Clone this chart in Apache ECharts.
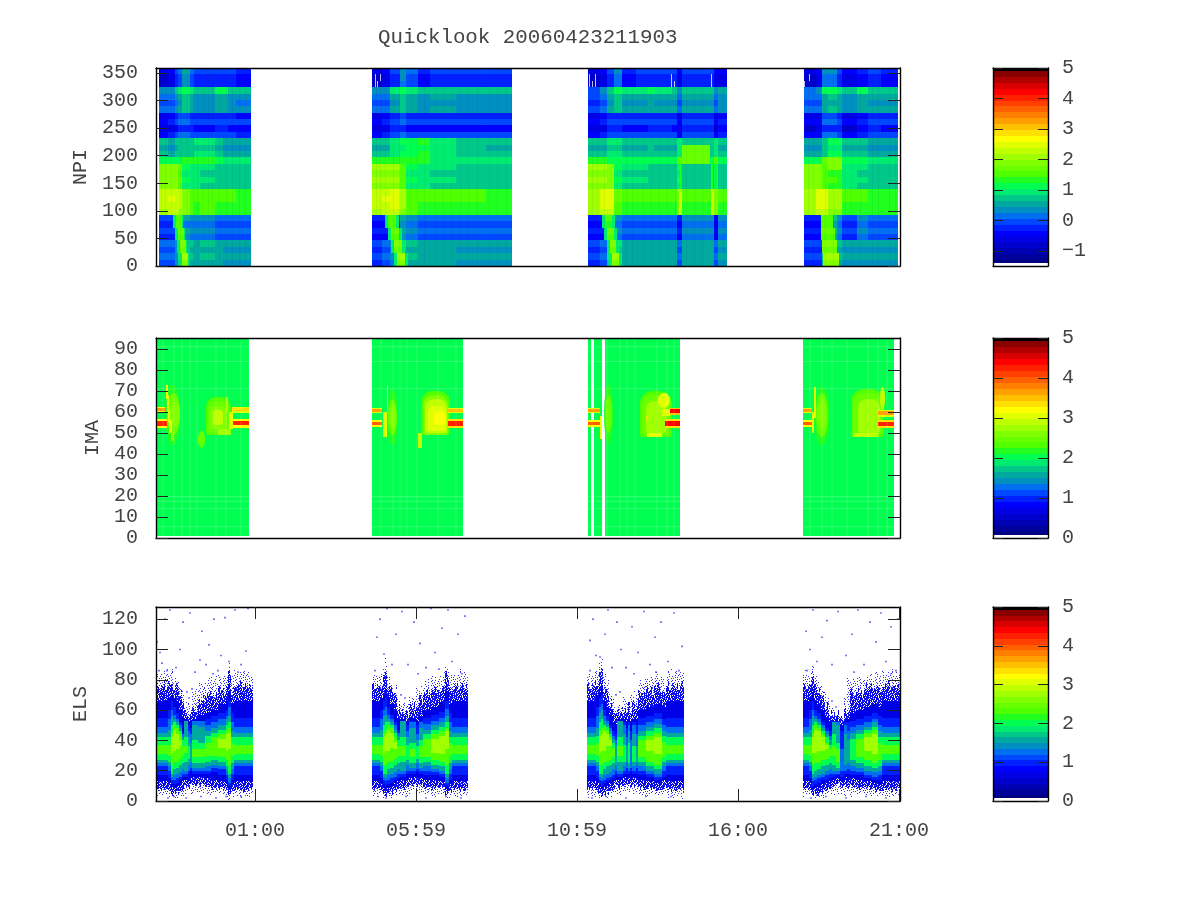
<!DOCTYPE html>
<html><head><meta charset="utf-8"><style>html,body{margin:0;background:#fff}#c{width:1200px;height:900px}</style>
<script src="https://cdn.jsdelivr.net/npm/echarts@6/dist/echarts.min.js"></script></head><body><div id="c"></div>
<script>
const chartTitle='Quicklook 20060423211903';
const timeTickScans=[99,260,421,582,743];
const timeTickLabels=['01:00','05:59','10:59','16:00','21:00'];
const npiTicks=[0,50,100,150,200,250,300,350];
const imaTicks=[0,10,20,30,40,50,60,70,80,90];
const elsTicks=[0,20,40,60,80,100,120];
const paletteColors=['#000080','#00009a','#0000b4','#0000cc','#0000e6','#0000ff','#0020ff','#0048ff','#0070f0','#0090c0','#00a8a0','#00c888','#00ec70','#00ff50','#20ff20','#50ff00','#68ff00','#80ff00','#a0ff00','#c0ff00','#e0ff00','#ffff00','#ffe000','#ffc000','#ffa000','#ff8000','#ff6000','#ff4000','#ff2000','#ff0000','#d80000','#b00000','#880000'];

const npiRowBands=[[0,3],[3,4],[4,7],[7,11],[11,14],[14,15],[15,19],[19,23],[23,27],[27,31]];
const npiBandOffset=[.1,-.05,-.1,.05,.12,-.05,.1,-.12,.12,-.15,.1,.06,-.06,.04,0,.05,-.05,.06,-.05,.02,.04,0,-.02,.1,-.12,.1,-.1,.1,-.05,.1,-.05];
const npiEdges1=[3,12,19,22,26,34,38,44,59,67,72,80,95];
const npiValues1=[
[-.7,-.6,-.1,.1,.4,.1,-.2,-.2,-.1,-.1,-.2,-.3],
[.3,.3,.7,.9,1.05,.8,.7,.6,1.0,1.1,.7,.6],
[0,.1,.2,.45,.7,.5,.3,.3,.5,.5,.3,.25],
[-.5,-.4,-.2,0,0,-.1,-.2,-.2,-.1,-.1,-.2,-.25],
[.6,.5,.6,.7,.7,.75,.8,.8,.6,.5,.5,.5],
[1.2,1.2,1.15,1.1,1.3,1.3,1.3,1.3,1.1,1.0,1.0,1.0],
[1.9,1.9,1.85,1.6,1.0,.95,.9,.8,.7,.7,.7,.7],
[2.2,2.35,2.3,2.2,1.9,1.5,1.4,1.45,1.4,1.4,1.4,1.35],
[-.2,-.2,.3,.5,.35,.3,.2,.2,.1,.1,.1,.1],
[0,0,.3,.8,.7,.6,.5,.6,.5,.4,.4,.4]];
const npiEdges2=[216,226,234,244,250,262,274,300,330,356];
const npiValues2=[
[-.7,-.5,-.1,.3,0,-.3,-.2,-.2,-.2],
[.3,.3,.8,1.0,.9,.7,.7,.6,.6],
[0,.1,.4,.7,.5,.3,.4,.3,.3],
[-.5,-.4,-.1,0,-.2,-.2,-.2,-.2,-.2],
[.6,.6,.9,1.0,1.1,1.2,.9,.7,.6],
[1.3,1.3,1.3,1.3,1.3,1.4,1.0,1.0,1.0],
[2.0,2.0,2.0,1.5,1.0,.9,.8,.7,.7],
[2.2,2.35,2.4,2.0,1.5,1.4,1.4,1.4,1.35],
[-.4,-.3,-.1,.4,.3,.1,.1,0,0],
[-.1,0,.2,.8,.6,.5,.5,.4,.4]];
const npiEdges3=[432,444,451,458,466,480,492,498,516,521,526,554,558,562,571];
const npiValues3=[
[-.7,-.6,-.1,.2,-.3,-.2,-.1,-.1,-.2,-.5,-.1,-.1,-.6,-.5],
[0,.2,.7,1.0,.8,.8,1.1,.8,.7,.3,.6,.6,.2,.5],
[-.1,0,.4,.7,.4,.4,.5,.4,.4,.1,.4,.4,.1,.3],
[-.5,-.4,-.1,-.1,-.2,-.2,-.1,-.1,-.2,-.5,-.1,-.1,-.6,-.3],
[.6,.6,.8,.8,.6,.6,.7,.6,.6,.9,.7,.7,.9,.6],
[1.3,1.3,1.2,1.2,1.1,1.1,1.1,1.1,1.1,1.5,1.1,1.1,1.5,1.1],
[2.0,2.0,1.9,1.0,.8,.8,.7,.7,.7,1.0,.7,.7,1.1,.7],
[2.1,2.4,2.4,1.6,1.4,1.4,1.4,1.4,1.4,1.9,1.4,1.4,1.9,1.4],
[-.4,-.3,.4,.2,0,0,.1,.1,.1,-.3,.3,.3,-.5,.2],
[-.2,0,.8,.8,.5,.5,.5,.5,.5,0,.5,.5,0,.4]];
const npiEdges4=[648,660,666,672,681,686,701,712,725,742];
const npiValues4=[
[-.7,-.6,.2,.2,-.1,-.5,-.4,-.1,-.3],
[.1,.2,1.0,1.1,.8,.7,1.0,.7,.6],
[0,0,.5,.6,.5,.3,.5,.4,.35],
[-.6,-.5,0,0,-.1,-.6,-.3,-.1,-.2],
[.5,.5,.7,1.0,1.0,.6,.6,.5,.5],
[1.2,1.2,1.7,1.8,1.8,1.1,1.1,1.0,1.0],
[1.9,1.9,1.5,1.4,1.3,.9,.8,.7,.7],
[2.1,2.4,2.4,2.2,1.7,1.4,1.4,1.3,1.3],
[-.4,-.3,.6,.6,.3,-.2,.2,.1,.1],
[-.2,-.1,.6,.7,.6,.4,.4,.4,.4]];
// [scanStart, scanEnd, bandTop, bandBottom, value]
const npiPatches=[
[17,27,23,25,.9],[19,29,25,27,.9],[21,31,27,29,.9],[23,33,29,31,.9],[20,26,23,25,1.5],[22,28,25,27,1.6],[24,30,27,29,1.8],[26,32,29,31,2.0],
[229,243,23,25,.9],[232,246,25,27,.9],[235,249,27,29,.9],[238,252,29,31,.9],[232,240,23,25,1.5],[235,243,25,27,1.6],[238,246,27,29,1.8],[241,249,29,31,2.0],
[446,459,23,25,.9],[448,461,25,27,.9],[451,463,27,29,.9],[453,466,29,31,.9],[449,456,23,25,1.4],[451,458,25,27,1.6],[454,460,27,29,1.8],[456,463,29,31,2.0],
[526,554,12,15,1.7],[523,526,19,23,2.2],[555,558,19,23,2.2],[524,525,15,19,1.3],[555,557,15,19,1.3],
[665,677,23,25,1.5],[665,679,25,27,1.6],[666,681,27,29,1.8],[667,683,29,31,2.0],[672,686,14,16,1.9],[672,686,19,23,2.0]];
const npiSpecks=[[219,220,1,3],[221,222,2,3],[224,225,1,2],[433,434,1,3],[436,437,2,3],[439,440,1,3],[515,516,1,3],[518,519,2,3],[555,556,1,3],[648,649,2,3],[653,654,1,2]];
const npiThinLines=[5,9,15,24,31,37,41,47,52,56,63,70,76,83,89,220,224,229,237,243,255,261,268,279,287,295,304,312,321,333,341,350,436,441,448,461,470,476,487,495,503,511,519,530,538,546,559,567,652,657,669,677,689,695,704,716,722,733,739];

const imaBlocks=[[0,93],[216,306.7],[431.7,435],[438.3,445.7],[449,524],[647.3,738]];
const imaLightRows=[91,84,71,19.7,17.5,14,5.4];
const imaLightCols=[7,18,26,34,41,60,70,85,225,237,244,251,261,282,300,451,464,471,479,501,511,518,654,666,676,691,712,722,731];
// [scanStart, scanEnd, binLow, binHigh, value, shape: 0 rect, 1 ellipse, 2 rounded]
const imaPatches=[
[9,24,44,73,2.2,1],[11,24,49,69,2.4,1],[14,24,53,65,2.6,1],[10,12,66,73,3.2],[11,13,60,68,3.1],[12,14,55,61,3.1],[13,16,50,56,3.0],[15,18,46,51,2.6],
[42,49,43,51,2.5,1],[50,75,49,67,2.25,2],[52,73,50,65,2.45,2],[54,71,52,63,2.65,2],[57,67,54,61,2.9,2],[70,72,60,67,2.8],[62,75,49,52,2.7],[73,77,52,60,3.0],
[0,9,59.5,62.5,3.2],[0,9,60.3,61.7,3.6],[0,11,52.5,56.5,3.2],[0,11,53.5,55.5,4.2],[76,93,59.5,62.5,3.0],[76,93,60.3,61.7,3.3],[77,93,52.5,56.5,3.2],[77,93,53.7,55.7,4.2],
[231,242,44,71,2.2,1],[232,241,49,66,2.4,1],[234,240,52,63,2.55,1],[231,232,60,73,2.9],[262,266,43,50,2.9],[265,294,49,70,2.3,2],[267,292,49,68,2.6,2],[269,291,50,66,2.85,2],[272,290,51,63,3.0,2],[278,289,54,60,3.2,2],
[216,226,59.5,62,3.0],[216,226,60.2,61.3,3.6],[216,226,53,56,3.2],[216,226,53.8,55.3,4.0],[227,231,48,60,3.1],
[292,307,59.5,62,3.0],[292,307,60.2,61.3,3.5],[292,307,52.5,56.5,3.3],[292,307,53.5,55.7,4.3],
[448,457,45,73,2.2,1],[449,456,50,68,2.4,1],[484,516,48,70,2.25,2],[486,514,49,68,2.5,2],[490,510,50,65,2.7,2],[502,514,62,69,3.1,1],[490,492,56,58,3.3],[491,506,48,50,3.0],
[432,444,59.5,62,3.0],[432,444,60.2,61.3,3.6],[432,444,53,56,3.2],[432,444,53.8,55.3,4.0],[444,446,47,58,3.2],
[509,524,52.5,56.5,3.3],[509,524,53.5,55.7,4.4],[506,514,58,61.5,3.1],[514,524,58.5,62,3.5],[514,524,59.4,61.3,4.4],
[658,674,44,72,2.2,1],[660,672,48,69,2.45,1],[662,670,52,66,2.65,1],[658,660,57,72,3.1],[695,728,48,71,2.25,2],[697,726,49,69,2.5,2],[702,724,50,66,2.7,2],[724,729,61,72,2.9,1],[697,722,48,50,2.9],
[647,656,59.5,62,3.0],[647,656,60.2,61.3,3.7],[647,656,53,56,3.2],[647,656,53.8,55.3,4.0],[656,658,50,60,3.0],
[722,738,57.5,61,3.1],[722,738,58.5,60.3,3.7],[722,738,52.5,56,3.3],[722,738,53.3,55.2,4.2]];

// ELS: [scanStart, scanEnd, then low/high bins of each nested level, outermost first]
const elsLevelValues=[-2,-1,.6,1.0,1.3,1.6,2.0,2.3,2.75];
const N=[5,82,9,73,13,66,17,55,23,49,25,45,27,42,31,37,0,0];
const elsOrbit1=[
[0,12,...N],
[12,15,5,82,8,74,12,68,15,60,20,54,23,47,26,42,30,37,0,0],
[15,17,4,84,6,76,9,70,11,66,14,60,16,56,18,50,24,45,32,42],
[17,20,4,80,6,73,9,68,11,62,14,57,17,54,21,52,26,50,33,47],
[20,23,4,78,7,72,10,66,12,58,15,54,18,52,22,50,26,48,34,44],
[23,26,5,72,8,68,12,60,14,52,16,50,19,48,24,46,28,44,36,40],
[26,28,5,68,9,62,13,56,16,45,18,44,21,42,25,40,30,36,0,0],
[28,32,6,62,11,56,14,54,16,53,18,53,20,53,26,42,32,36,0,0],
[32,34,7,60,11,54,13,52,18,50,20,46,24,42,28,36,0,0,0,0],
[34,36,7,58,12,53,15,52,20,48,22,44,26,38,0,0,0,0,0,0],
[36,42,7,70,12,58,16,54,18,53,20,53,22,50,25,40,29,34,0,0],
[42,49,7,76,12,64,16,57,18,53,20,53,22,49,25,38,29,34,0,0],
[49,55,6,78,11,68,15,58,18,54,20,50,23,46,26,43,30,38,0,0],
[55,62,6,78,10,68,14,60,19,56,22,52,24,48,27,45,30,42,0,0],
[62,70,6,80,10,70,13,64,17,58,21,54,23,50,26,47,29,44,35,41],
[70,72,5,80,8,72,11,66,14,60,17,56,20,54,23,50,27,47,33,44],
[72,75,4,88,6,80,8,72,10,66,12,62,15,56,18,52,24,48,34,45],
[75,78,5,80,8,70,11,64,14,58,18,52,21,46,25,42,30,38,0,0],
[78,97,...N]];
const elsOrbit2=[
[216,224,...N],
[224,227,5,82,8,74,12,68,15,60,20,54,23,47,26,42,30,37,0,0],
[227,229,4,86,6,78,9,70,11,66,14,60,16,56,18,50,24,45,32,42],
[229,231,3,90,5,84,8,74,10,68,13,62,15,57,18,52,24,47,33,44],
[231,234,4,80,6,73,9,68,11,62,14,57,17,54,21,52,26,50,33,47],
[234,238,4,76,7,70,10,64,12,57,15,54,18,52,22,50,26,48,35,45],
[238,241,5,72,8,66,12,60,14,52,16,50,19,47,24,45,28,42,34,39],
[241,244,6,66,9,60,13,55,15,47,18,45,21,43,25,40,30,36,0,0],
[244,250,6,60,10,56,14,54,16,53,18,53,20,53,26,42,30,36,0,0],
[250,253,7,62,11,54,14,52,18,50,20,46,24,42,27,37,0,0,0,0],
[253,260,7,66,12,60,16,55,18,53,20,52,22,48,25,38,29,34,0,0],
[260,263,7,70,12,62,15,53,19,50,21,44,25,40,28,36,0,0,0,0],
[263,267,7,72,12,64,16,56,18,53,20,52,22,48,25,40,29,36,0,0],
[267,275,6,76,10,68,14,60,17,55,20,51,23,47,26,44,29,41,0,0],
[275,283,6,78,10,70,14,62,17,57,19,53,21,50,24,47,27,44,32,41],
[283,289,6,80,10,72,13,65,16,59,18,55,20,52,23,49,26,46,31,43],
[289,293,4,87,6,80,8,72,10,66,12,61,15,56,18,52,24,48,34,46],
[293,296,5,80,8,70,11,64,14,58,18,52,21,46,25,42,30,38,0,0],
[296,312,...N]];
const elsOrbit3=[
[431,440,...N],
[440,443,5,84,8,76,12,70,15,62,20,56,23,48,26,43,30,38,0,0],
[443,445,4,90,6,80,9,72,11,68,14,62,16,58,18,52,24,46,32,43],
[445,447,3,92,5,86,8,76,10,70,13,64,15,60,18,54,24,48,33,44],
[447,450,4,80,6,72,9,66,12,60,14,56,17,53,21,50,26,49,33,46],
[450,453,5,76,7,68,10,62,13,56,15,53,18,51,23,49,26,47,36,44],
[453,456,5,70,8,62,12,56,14,50,16,48,19,46,24,44,27,42,36,40],
[456,459,6,64,9,58,13,52,15,46,17,43,21,41,25,38,29,35,0,0],
[459,461,8,60,12,54,14,50,17,44,20,40,24,36,0,0,0,0,0,0],
[461,467,6,62,11,56,14,54,16,53,18,53,20,53,26,42,30,36,0,0],
[467,470,7,64,12,58,16,54,18,52,20,50,23,44,26,37,0,0,0,0],
[470,472,7,64,12,56,14,52,18,48,22,42,26,36,0,0,0,0,0,0],
[472,474,7,66,12,60,16,54,18,52,20,50,22,46,25,38,0,0,0,0],
[474,476,8,66,12,58,14,52,19,46,22,40,0,0,0,0,0,0,0,0],
[476,480,7,68,12,60,16,54,18,52,20,50,23,44,26,36,0,0,0,0],
[480,482,7,70,12,60,14,54,18,50,22,44,25,36,0,0,0,0,0,0],
[482,490,6,76,10,68,14,60,17,55,20,50,23,46,26,43,29,40,0,0],
[490,498,6,78,10,70,13,62,16,56,18,52,20,49,23,46,26,43,33,40],
[498,506,6,80,9,72,12,64,14,58,16,54,18,51,21,48,24,45,31,42],
[506,510,6,76,10,70,14,62,16,54,20,50,23,46,26,43,29,39,0,0],
[510,528,...N]];
const elsOrbit4=[
[647,653,...N],
[653,656,5,82,8,74,12,68,15,60,20,54,23,47,26,42,30,37,0,0],
[656,658,3,88,5,82,8,72,10,66,13,60,15,56,18,50,24,45,32,42],
[658,661,4,80,6,72,9,66,11,60,14,56,16,54,20,52,25,50,32,47],
[661,665,4,76,6,70,9,64,12,58,15,54,17,52,21,50,25,48,33,46],
[665,669,5,72,7,66,11,60,14,52,16,50,18,48,23,46,27,44,33,42],
[669,673,5,68,8,60,12,55,14,48,17,46,20,44,24,42,28,38,34,37],
[673,676,6,62,9,56,13,52,15,46,18,43,21,40,25,37,30,34,0,0],
[676,680,7,58,11,54,14,53,16,53,18,52,20,52,24,44,30,36,0,0],
[680,684,8,56,12,54,15,53,17,53,18,52,20,50,22,38,26,34,0,0],
[684,688,7,54,10,52,13,50,16,46,20,34,0,0,0,0,0,0,0,0],
[688,691,6,68,11,56,16,54,18,52,20,50,24,44,0,0,0,0,0,0],
[691,694,7,76,11,58,14,54,18,52,21,46,25,40,0,0,0,0,0,0],
[694,700,6,78,11,68,15,58,17,53,20,49,23,45,27,41,0,0,0,0],
[700,708,6,78,10,70,14,60,17,54,19,50,22,47,25,44,29,41,0,0],
[708,716,6,80,10,72,13,62,15,56,17,52,20,49,23,47,27,45,33,42],
[716,722,6,80,9,72,12,64,14,58,16,54,19,52,22,49,25,47,31,44],
[722,726,5,80,8,72,11,62,14,56,17,50,20,46,23,42,27,38,0,0],
[726,744,...N]];
const elsJag=[2,5,1,3,0,4,2,6,1,3,5,0,2,4,1,6,3,0,5,2,1,4,3,6,0,2,5,3,1,4,0,3,6,2,1,5,3,0,4,2,5,1,3,6,0,4,2,1,5,3,0,2,6,4,1,3];
const elsStrayDots=[[1,105],[4,98],[3,86],[6,91],[9,120],[14,126],[20,88],[24,100],[27,118],[34,124],[39,85],[44,93],[46,112],[50,90],[53,103],[58,120],[62,86],[65,96],[69,121],[73,92],[79,126],[85,90],[90,99],[92,127],[12,2],[18,3],[30,2],[45,3],[60,2],[70,3],[85,3],[31,72],[36,74],[33,68],[11,86],[82,85],[57,84],
[221,108],[224,120],[228,97],[231,127],[236,90],[240,110],[246,125],[252,90],[258,118],[264,104],[270,88],[275,127],[279,98],[286,114],[292,126],[296,92],[302,110],[306,84],[309,122],[222,3],[230,2],[250,3],[270,2],[290,3],[305,2],[245,70],[249,68],[219,86],[262,84],[283,87],
[434,106],[437,120],[440,96],[444,95],[449,110],[452,126],[456,88],[461,118],[465,100],[470,88],[476,115],[482,98],[488,125],[494,90],[499,108],[505,118],[512,92],[518,124],[523,86],[526,102],[436,2],[450,3],[470,2],[490,3],[515,3],[460,70],[464,72],[434,86],[478,84],[500,85],
[650,112],[654,100],[657,126],[661,92],[666,108],[671,119],[676,90],[682,125],[690,96],[696,110],[702,126],[708,90],[714,118],[720,105],[725,124],[730,92],[735,115],[740,86],[742,120],[655,2],[670,3],[690,2],[710,3],[730,2],[676,66],[680,62],[651,86],[698,85],[735,84]];
const stippleSparse=['#..#....#...#...','....#......#....','.#.....#.....#..','...#..#...#.....','#.......#....#..','...#.#.....#....','.#.......#.....#','.....#.#....#...','#..#.......#....','......#..#.....#','..#.........#...','#....#.#.....#..','...#.....#......','.#.....#....#..#','.....#....#.....','..#.#.......#...'];
const stippleDense=['##.###.#.####.##','.####.###.#.####','##.#.####.###.#.','#.####.#.###.###','.##.#.####.#.##.','###.###.#.####.#','#.###.#.###.#.##','.#.####.##.###.#','###.#.###.##.#.#','#.#####.#.####.#','##.##.###.#.###.','.###.#.####.###.','#.#.####.#.##.##','###.##.#.####.#.','.##.###.#.##.###','#.####.###.#.##.'];

const FONT='Liberation Mono',TXT='#444',FS=20;
const paletteTop='#000000';
function colorAt(f){if(f>=.985)return paletteTop;const i=Math.min(paletteColors.length-1,Math.max(0,Math.floor(f/.985*paletteColors.length)));return paletteColors[i];}
function makePattern(rows,color){const c=document.createElement('canvas');c.width=rows[0].length;c.height=rows.length;const g=c.getContext('2d');g.fillStyle=color;rows.forEach((r,y)=>[...r].forEach((ch,x)=>{if(ch==='#')g.fillRect(x,y,1,1);}));return {image:c,repeat:'repeat'};}
const patSparse=makePattern(stippleSparse,'#3030f4'),patDense=makePattern(stippleDense,'#0808ec');

const bandSize=359/31;
const npiItems=[];
[[npiEdges1,npiValues1],[npiEdges2,npiValues2],[npiEdges3,npiValues3],[npiEdges4,npiValues4]].forEach(([edges,vals])=>{
  vals.forEach((row,r)=>{const [b0,b1]=npiRowBands[r];for(let b=b0;b<b1;b++)row.forEach((v,c)=>npiItems.push([edges[c],edges[c+1],359-(b+1)*bandSize,359-b*bandSize,v+npiBandOffset[b]]));});
});
npiPatches.forEach(p=>{for(let b=p[2];b<p[3];b++)npiItems.push([p[0],p[1],359-(b+1)*bandSize,359-b*bandSize,p[4]+npiBandOffset[b]*.4]);});
npiSpecks.forEach(p=>npiItems.push([p[0],p[1],359-p[3]*bandSize,359-p[2]*bandSize,99]));
npiThinLines.forEach(x=>npiItems.push([x,x+1,0,359,98]));
const imaItems=[];
imaBlocks.forEach(b=>imaItems.push([b[0],b[1],1,95.2,1.98,0]));
imaPatches.forEach(p=>imaItems.push([p[0],p[1],p[2],p[3],p[4],p[5]||0]));
const elsItems=[];
[elsOrbit1,elsOrbit2,elsOrbit3,elsOrbit4].forEach(orb=>{
  orb.forEach(c=>{elsLevelValues.forEach((v,l)=>{const lo=c[2+2*l],hi=c[3+2*l];if(hi>lo)elsItems.push([c[0],c[1],lo,hi,v,0]);});});
  let k=0;
  orb.forEach(c=>{for(let x=c[0];x<c[1];x+=1.5){const j=elsJag[k++%elsJag.length],q=elsJag[(k+17)%elsJag.length];
    if(x+1.5>c[1])continue;
    elsItems.push([x,x+1.5,c[3],c[3]+j*.9,-2,0]);
    elsItems.push([x,x+1.5,c[2]-q*.6,c[2],-2,0]);
    elsItems.push([x,x+1.5,c[5],c[5]+q*1.0,-1,0]);
    elsItems.push([x,x+1.5,c[4]-j*.5,c[4],-1,0]);
    elsItems.push([x,x+1.5,c[7],c[7]+j*.6,-1,0]);
  }});
});

function renderer(min,max){return function(params,api){
  const a=api.coord([api.value(0),api.value(3)]),b=api.coord([api.value(1),api.value(2)]);
  const x=Math.round(a[0]),y=Math.round(a[1]),w=Math.round(b[0])-x,h=Math.round(b[1])-y;
  const v=api.value(4);let fill;
  if(v===99)fill='rgba(255,255,255,.75)';else if(v===98)fill='rgba(0,0,80,.05)';else if(v===-2)fill=patSparse;else if(v===-1)fill=patDense;else fill=colorAt((v-min)/(max-min));
  const s=api.value(5);
  if(s===1)return {type:'ellipse',shape:{cx:(a[0]+b[0])/2,cy:(a[1]+b[1])/2,rx:(b[0]-a[0])/2,ry:(b[1]-a[1])/2},style:{fill}};
  if(s===2)return {type:'rect',shape:{x,y,width:w,height:h,r:[w*.4,w*.4,3,3]},style:{fill}};
  return {type:'rect',shape:{x,y,width:Math.max(w,1),height:Math.max(h,1)},style:{fill}};
};}
function lightRenderer(){return function(params,api){
  const a=api.coord([api.value(0),api.value(3)]),b=api.coord([api.value(1),api.value(2)]);
  return {type:'rect',shape:{x:a[0],y:a[1],width:b[0]-a[0],height:b[1]-a[1]},style:{fill:'rgba(255,255,255,.18)'}};
};}
const imaLight=[];
imaLightRows.forEach(y=>imaBlocks.forEach(b=>imaLight.push([b[0],b[1],y-.25,y+.25])));
imaLightCols.forEach(x=>imaLight.push([x-.5,x+.5,1,95.2]));

const panels=[
 {top:68,h:198,min:0,max:359,ticks:npiTicks,name:'NPI',gap:40,items:npiItems,vmin:-1.5,vmax:5,barTicks:[-1,0,1,2,3,4,5]},
 {top:338,h:200,min:0,max:95.2,ticks:imaTicks,name:'IMA',gap:28,items:imaItems,vmin:0,vmax:5,barTicks:[0,1,2,3,4,5]},
 {top:607,h:194,min:0,max:128,ticks:elsTicks,name:'ELS',gap:42,items:elsItems,vmin:0,vmax:5,barTicks:[0,1,2,3,4,5]}];
const grid=[],xAxis=[],yAxis=[],series=[];
const line={show:true,onZero:false,lineStyle:{color:'#000',width:1.4}};
const lab={fontFamily:FONT,fontSize:FS,color:TXT};
panels.forEach((p,i)=>{
  const g=grid.length;grid.push({left:156,width:744,top:p.top,height:p.h});
  const isEls=i===2;
  [0,1].forEach(k=>{
    xAxis.push({gridIndex:g,type:'value',min:0,max:744,position:k?'top':'bottom',z:6,axisLine:line,splitLine:{show:false},
      axisTick:{show:isEls,inside:true,length:12,customValues:timeTickScans,lineStyle:{color:'#222'}},
      axisLabel:{show:isEls&&!k,customValues:timeTickScans,margin:20,...lab,formatter:v=>timeTickLabels[timeTickScans.indexOf(v)]}});
    yAxis.push({gridIndex:g,type:'value',min:p.min,max:p.max,position:k?'right':'left',z:6,axisLine:line,splitLine:{show:false},
      name:k?'':p.name,nameLocation:'middle',nameGap:p.gap,nameRotate:90,nameTextStyle:{...lab},
      axisTick:{show:true,inside:true,length:12,customValues:p.ticks,lineStyle:{color:'#222'}},
      axisLabel:{show:!k,customValues:p.ticks,margin:18,padding:[2,0,0,0],...lab}});
  });
  const ax=xAxis.length-2,ay=yAxis.length-2;
  series.push({type:'custom',xAxisIndex:ax,yAxisIndex:ay,data:p.items,renderItem:renderer(p.vmin,p.vmax),encode:{x:[0,1],y:[2,3]},silent:true,animation:false,progressive:0,clip:true,z:2});
  if(i===1)series.push({type:'custom',xAxisIndex:ax,yAxisIndex:ay,data:imaLight,renderItem:lightRenderer(),encode:{x:[0,1],y:[2,3]},silent:true,animation:false,progressive:0,z:3});
  if(isEls)series.push({type:'scatter',xAxisIndex:ax,yAxisIndex:ay,data:elsStrayDots,symbol:'rect',symbolSize:1.6,itemStyle:{color:'#3030e8'},silent:true,animation:false,z:3});
  const gb=grid.length;grid.push({left:993,width:55,top:p.top,height:p.h});
  const r=p.vmax-p.vmin;
  const barItems=paletteColors.map((c,j)=>[0,1,p.vmin+r*Math.max(.014,.985*j/paletteColors.length),p.vmin+r*.985*(j+1)/paletteColors.length,p.vmin+r*.985*(j+.5)/paletteColors.length,0]);
  barItems.push([0,1,p.vmin+r*.985,p.vmax,p.vmax,0]);
  [0,1].forEach(k=>{
    xAxis.push({gridIndex:gb,type:'value',min:0,max:1,position:k?'top':'bottom',z:6,axisLine:line,axisTick:{show:false},axisLabel:{show:false},splitLine:{show:false}});
    yAxis.push({gridIndex:gb,type:'value',min:p.vmin,max:p.vmax,position:k?'right':'left',z:6,axisLine:line,splitLine:{show:false},
      axisTick:{show:true,inside:true,length:10,customValues:p.barTicks,lineStyle:{color:'#222'}},
      axisLabel:{show:!!k,inside:false,customValues:p.barTicks,margin:14,padding:[2,0,0,0],...lab,formatter:v=>String(v).replace('-','\u2212')}});
  });
  series.push({type:'custom',xAxisIndex:xAxis.length-2,yAxisIndex:yAxis.length-2,data:barItems,renderItem:renderer(p.vmin,p.vmax),encode:{x:[0,1],y:[2,3]},silent:true,animation:false,progressive:0,z:2});
});
const chart=echarts.init(document.getElementById('c'),null,{renderer:'canvas'});
chart.setOption({backgroundColor:'#fff',animation:false,
  title:{text:chartTitle,left:373,top:22,textStyle:{fontFamily:FONT,fontSize:20.8,fontWeight:'normal',color:TXT}},
  grid,xAxis,yAxis,series});
</script></body></html>
